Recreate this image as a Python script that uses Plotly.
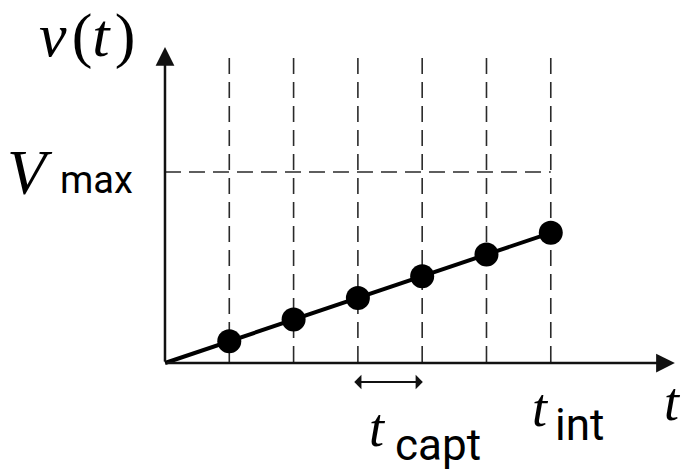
import plotly.graph_objects as go

# Sample instants (in units of the capture period) and the sampled values
t_samples = [1, 2, 3, 4, 5, 6]
v_samples = [1, 2, 3, 4, 5, 6]
v_max = 8.8

W, H = 686, 471
# axis geometry (data units)
X_RANGE = [-2.566, 8.103]
Y_RANGE = [-4.977, 16.728]
GRID_TOP = 14.06
Y_TIP = 14.56
X_TIP = 7.93

SERIF = "Liberation Serif"
SANS = "Roboto"


def px_x(p):
    return p / W


def px_y(p):
    return 1 - p / H


fig = go.Figure()

# ramp line through the origin and the sample markers
fig.add_trace(go.Scatter(
    x=[0] + t_samples, y=[0] + v_samples, mode="lines",
    line=dict(color="black", width=4), hoverinfo="skip", showlegend=False))
fig.add_trace(go.Scatter(
    x=t_samples, y=v_samples, mode="markers",
    marker=dict(color="black", size=24), hoverinfo="skip", showlegend=False))

shapes = []
dash = "16px,8px"
for t in t_samples:
    shapes.append(dict(type="line", xref="x", yref="y", x0=t, x1=t, y0=GRID_TOP, y1=0,
                       line=dict(color="#2a2a2a", width=1.6, dash=dash), layer="below"))
shapes.append(dict(type="line", xref="x", yref="y", x0=0, x1=t_samples[-1], y0=v_max, y1=v_max,
                   line=dict(color="#2a2a2a", width=1.6, dash=dash), layer="below"))

annotations = []
# axes with arrow heads
annotations.append(dict(x=0, y=Y_TIP, ax=0, ay=0, xref="x", yref="y", axref="x", ayref="y",
                        text="", showarrow=True, arrowhead=2, arrowsize=1.5, arrowwidth=2.5,
                        arrowcolor="#111", standoff=0, startstandoff=0))
annotations.append(dict(x=X_TIP, y=0, ax=0, ay=0, xref="x", yref="y", axref="x", ayref="y",
                        text="", showarrow=True, arrowhead=2, arrowsize=1.5, arrowwidth=2.5,
                        arrowcolor="#111", standoff=0, startstandoff=0))
# capture period marker
annotations.append(dict(x=4.01, y=-0.876, ax=2.92, ay=-0.876, xref="x", yref="y",
                        axref="x", ayref="y", text="", showarrow=True, arrowhead=1,
                        arrowside="end+start", arrowsize=1.2, arrowwidth=2,
                        arrowcolor="#111", standoff=0, startstandoff=0))


def label(text, left, baseline, size, family):
    annotations.append(dict(
        x=px_x(left), y=px_y(baseline - 0.33 * size), xref="paper", yref="paper",
        xanchor="left", yanchor="middle", text=text, showarrow=False,
        font=dict(family=family, size=size, color="black"), borderpad=0))


label("<i>v</i>\u200a(<i>t</i>\u200a)", 38, 56, 62, SERIF)
label("<i>V</i>", 6, 194, 64, SERIF)
label("max", 59, 193, 38, SANS)
label("<i>t</i>", 368, 446, 54, SERIF)
label("capt", 394, 460, 44, SANS)
label("<i>t</i>", 531, 426, 54, SERIF)
label("int", 554, 440, 44, SANS)
label("<i>t</i>", 663, 420, 54, SERIF)

fig.update_layout(
    width=W, height=H, margin=dict(l=0, r=0, t=0, b=0),
    paper_bgcolor="white", plot_bgcolor="white",
    xaxis=dict(range=X_RANGE, visible=False, fixedrange=True),
    yaxis=dict(range=Y_RANGE, visible=False, fixedrange=True),
    shapes=shapes, annotations=annotations, showlegend=False)

fig.write_html("out.html")
